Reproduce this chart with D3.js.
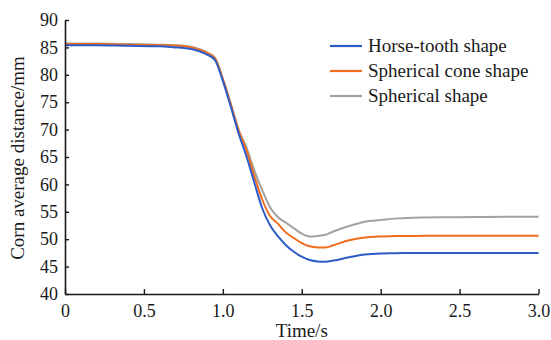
<!DOCTYPE html>
<html>
<head>
<meta charset="utf-8">
<script src="https://cdn.jsdelivr.net/npm/d3@7"></script>
<style>
  html, body { margin: 0; padding: 0; background: #fff; }
  svg { display: block; }
</style>
</head>
<body>
<svg id="chart" width="551" height="340"></svg>
<script>
// Time samples (s)
const timeS = [0, 0.2, 0.4, 0.6, 0.7, 0.75, 0.8, 0.85, 0.9, 0.95, 1.0, 1.05, 1.1, 1.15, 1.2, 1.25, 1.3, 1.35, 1.4, 1.45, 1.5, 1.55, 1.6, 1.65, 1.7, 1.8, 1.9, 2.0, 2.1, 2.2, 2.4, 2.6, 2.8, 3.0];

// Corn average distance (mm) for each kernel shape
const horseTooth = [85.4, 85.4, 85.3, 85.2, 85.0, 84.9, 84.7, 84.3, 83.7, 82.7, 78.9, 74.2, 69.3, 65.1, 60.3, 55.6, 52.5, 50.5, 48.9, 47.7, 46.8, 46.2, 45.95, 45.9, 46.1, 46.7, 47.2, 47.4, 47.45, 47.5, 47.5, 47.5, 47.5, 47.5];
const sphericalCone = [85.6, 85.6, 85.5, 85.4, 85.3, 85.2, 85.0, 84.6, 84.0, 83.0, 79.2, 74.6, 69.8, 66.2, 61.5, 57.2, 54.2, 52.8, 51.2, 50.2, 49.3, 48.7, 48.5, 48.5, 48.9, 49.8, 50.3, 50.5, 50.6, 50.6, 50.65, 50.65, 50.65, 50.65];
const spherical = [85.7, 85.7, 85.6, 85.5, 85.4, 85.3, 85.1, 84.7, 84.1, 83.1, 79.3, 74.8, 70.0, 66.7, 62.5, 58.9, 55.8, 54.0, 53.0, 52.0, 51.0, 50.5, 50.6, 50.8, 51.4, 52.4, 53.2, 53.5, 53.8, 53.9, 54.0, 54.05, 54.1, 54.1];

const seriesNames = ["Horse-tooth shape", "Spherical cone shape", "Spherical shape"];
const seriesColors = ["#2c5cc8", "#f06c1e", "#a2a2a2"];
const seriesValues = [horseTooth, sphericalCone, spherical];

const xTicks = [0, 0.5, 1.0, 1.5, 2.0, 2.5, 3.0];
const xTickLabels = ["0", "0.5", "1.0", "1.5", "2.0", "2.5", "3.0"];
const yTicks = [40, 45, 50, 55, 60, 65, 70, 75, 80, 85, 90];

const FONT = "Liberation Serif";
const INK = "#1a1a1a";

const svg = d3.select("#chart");
const margin = { left: 65, right: 12.5, top: 20, bottom: 46 };
const W = 551, H = 340;

const x = d3.scaleLinear().domain([0, 3]).range([margin.left, W - margin.right]);
const y = d3.scaleLinear().domain([40, 90]).range([H - margin.bottom, margin.top]);

// Lines
const line = d3.line()
  .x((d, i) => x(timeS[i]))
  .y(d => y(d))
  .curve(d3.curveMonotoneX);

[2, 1, 0].forEach(k => {
  svg.append("path")
    .datum(seriesValues[k])
    .attr("d", line)
    .attr("fill", "none")
    .attr("stroke", seriesColors[k])
    .attr("stroke-width", 2);
});

// Axes with inward ticks
const xAxis = svg.append("g")
  .attr("transform", `translate(0,${y(40)})`)
  .call(d3.axisBottom(x).tickValues(xTicks).tickSizeInner(-5).tickSizeOuter(0)
    .tickFormat((d, i) => xTickLabels[i]));
xAxis.selectAll("text").attr("y", 10).attr("dy", "0.71em");

const yAxis = svg.append("g")
  .attr("transform", `translate(${x(0)},0)`)
  .call(d3.axisLeft(y).tickValues(yTicks).tickSizeInner(-4).tickSizeOuter(0));
yAxis.selectAll("text").attr("x", -7);

[xAxis, yAxis].forEach(g => {
  g.attr("font-family", FONT).attr("font-size", 18);
  g.selectAll("text").attr("fill", INK);
  g.select(".domain").attr("stroke", INK).attr("stroke-width", 1.6);
  g.selectAll(".tick line").attr("stroke", INK).attr("stroke-width", 1.4);
});

// Axis titles
svg.append("text")
  .attr("x", x(1.5))
  .attr("y", 337)
  .attr("text-anchor", "middle")
  .attr("font-family", FONT).attr("font-size", 19).attr("fill", INK)
  .text("Time/s");

svg.append("text")
  .attr("transform", `translate(24,${(y(40) + y(90)) / 2 + 1}) rotate(-90)`)
  .attr("text-anchor", "middle")
  .attr("font-family", FONT).attr("font-size", 19).attr("fill", INK)
  .text("Corn average distance/mm");

// Legend
const legend = svg.append("g").attr("transform", "translate(330,46)");
seriesNames.forEach((name, i) => {
  const row = legend.append("g").attr("transform", `translate(0,${i * 25})`);
  row.append("line")
    .attr("x1", 0).attr("x2", 32)
    .attr("stroke", seriesColors[i]).attr("stroke-width", 2.2);
  row.append("text")
    .attr("x", 38).attr("dy", "0.33em")
    .attr("font-family", FONT).attr("font-size", 19).attr("fill", INK)
    .text(name);
});
</script>
</body>
</html>
